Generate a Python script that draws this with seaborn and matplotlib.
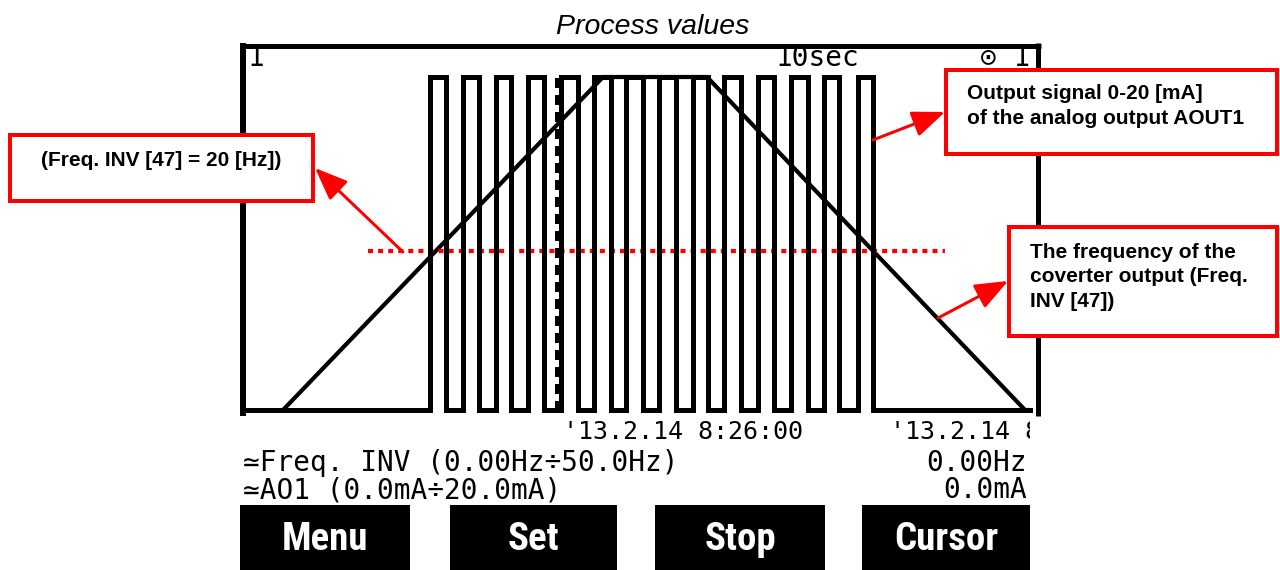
import matplotlib
matplotlib.use("Agg")
import matplotlib.pyplot as plt
import numpy as np
import pandas as pd
import seaborn as sns
from matplotlib.patches import Rectangle, FancyArrowPatch
from matplotlib import font_manager
from matplotlib.font_manager import FontProperties

# ---- trend data -------------------------------------------------------------
window_s = 78.5                      # visible time span of the trend (s)

# AO1 analog output (mA): square wave edge times (s)
ao_rise_s = [18.5, 21.8, 25.1, 28.3, 31.6, 34.9, 38.1, 41.4, 44.8, 47.9, 51.3, 54.6, 57.9, 61.3]
ao_fall_s = [20.1, 23.4, 26.6, 29.9, 33.3, 36.6, 39.8, 43.1, 46.3, 49.6, 52.9, 56.3, 59.4, 62.8]
ao_low_ma = 0.0
ao_high_ma = 20.0

# inverter output frequency (Hz): ramp up, hold, ramp down
freq_t_s = [3.8, 35.8, 46.2, 78.0, 78.5]
freq_hz = [0.0, 42.0, 42.0, 0.0, 0.0]
freq_top_hz = 42.0
freq_ref_hz = 20.0
freq_ref_span_s = [12.3, 70.0]

cursor_t_s = 31.2
time_tick_s = [31.8, 64.5]
time_tick_labels = ["'13.2.14 8:26:00", "'13.2.14 8:26:30"]

button_labels = ["Menu", "Set", "Stop", "Cursor"]

# ---- build plotting tables ----------------------------------------------------
ao_t = [0.0]
ao_v = [ao_low_ma]
for r, f in zip(ao_rise_s, ao_fall_s):
    ao_t += [r, r, f, f]
    ao_v += [ao_low_ma, ao_high_ma, ao_high_ma, ao_low_ma]
ao_t.append(window_s)
ao_v.append(ao_low_ma)
ao_df = pd.DataFrame({"t": ao_t, "mA": ao_v})
freq_df = pd.DataFrame({"t": freq_t_s, "Hz": freq_hz})
ref_df = pd.DataFrame({"t": freq_ref_span_s, "Hz": [freq_ref_hz] * 2})

# ---- style ------------------------------------------------------------------
sns.set_style("white")
plt.rcParams["font.family"] = ["DejaVu Sans Mono", "DejaVu Sans"]
plt.rcParams["text.color"] = "black"


def find_narrow_bold(size):
    """Pick a condensed bold face for the soft-key captions if one is installed."""
    prefs = ["LiberationSansNarrow-Bold", "RobotoCondensed-Bold", "Roboto_Condensed-Bold",
             "OpenSans_Condensed-Bold", "OpenSans-CondensedBold", "DejaVuSansCondensed-Bold"]
    files = [f.fname for f in font_manager.fontManager.ttflist]
    for p in prefs:
        for fn in files:
            if p.lower() in fn.lower().replace(" ", ""):
                return FontProperties(fname=fn, size=size)
    for f in font_manager.fontManager.ttflist:
        nm = f.fname.lower()
        if ("condensed" in nm or "narrow" in nm) and ("bold" in nm) and "oblique" not in nm \
                and "italic" not in nm:
            return FontProperties(fname=f.fname, size=size)
    return FontProperties(family="DejaVu Sans", weight="bold", size=size - 2)


btn_font = find_narrow_bold(28)
label_family = ["Liberation Sans", "DejaVu Sans"]
lcd = dict(family=["DejaVu Sans Mono", "DejaVu Sans"], fontsize=20, color="black")

W, H = 1280, 570
fig = plt.figure(figsize=(W / 100, H / 100), dpi=100)
fig.patch.set_facecolor("white")

# display frame and fixed texts, in pixel units
scr = fig.add_axes([0, 0, 1, 1], zorder=0)
scr.set_xlim(0, W)
scr.set_ylim(H, 0)
scr.axis("off")

px = 72 / 100  # points per pixel
scr.plot([243, 243], [43, 416], color="black", lw=6 * px, solid_capstyle="butt")
scr.plot([240, 1041], [45.5, 45.5], color="black", lw=5 * px, solid_capstyle="butt")
scr.plot([1038, 1038], [43, 416], color="black", lw=5 * px, solid_capstyle="butt")

scr.text(248, 58, "1", ha="left", va="center", **lcd)
scr.text(818, 58, "10sec", ha="center", va="center", **lcd)
scr.text(1030, 58, "\u2299 1", ha="right", va="center", **lcd)

scr.text(243, 463, "\u2243Freq. INV (0.00Hz\u00f750.0Hz)", ha="left", va="center", **lcd)
scr.text(1027, 463, "0.00Hz", ha="right", va="center", **lcd)
scr.text(243, 490, "\u2243AO1 (0.0mA\u00f720.0mA)", ha="left", va="center", **lcd)
scr.text(1027, 490, "0.0mA", ha="right", va="center", **lcd)

btn_boxes = [(240, 410), (450, 617), (655, 825), (862, 1030)]
for (x0, x1), lab in zip(btn_boxes, button_labels):
    scr.add_patch(Rectangle((x0, 505), x1 - x0, 65, facecolor="black", edgecolor="none"))
    scr.text((x0 + x1) / 2, 539, lab, ha="center", va="center", color="white",
             fontproperties=btn_font)

scr.text(653, 27, "Process values", ha="center", va="center", fontsize=20.5,
         style="italic", family=label_family, color="black")

# ---- trend axes -----------------------------------------------------------------
left, right, top, bottom = 245, 1030, 77, 410
ax_hz = fig.add_axes([left / W, 1 - bottom / H, (right - left) / W, (bottom - top) / H], zorder=1)
ax_hz.set_facecolor("none")
ax_ma = ax_hz.twinx()
ax_ma.set_facecolor("none")

sns.lineplot(data=ao_df, x="t", y="mA", sort=False, estimator=None, ax=ax_ma,
             color="black", lw=5 * px, antialiased=False, clip_on=False,
             solid_joinstyle="miter", solid_capstyle="projecting")
sns.lineplot(data=freq_df, x="t", y="Hz", sort=False, estimator=None, ax=ax_hz,
             color="black", lw=4.2 * px, clip_on=False,
             solid_joinstyle="miter", solid_capstyle="butt")
ax_hz.axvline(cursor_t_s, color="black", lw=5 * px, dashes=(2.0, 1.6), antialiased=False)
sns.lineplot(data=ref_df, x="t", y="Hz", sort=False, estimator=None, ax=ax_hz,
             color="red", lw=4.2 * px, zorder=5, clip_on=False)
ax_hz.lines[-1].set_dashes((1.2, 1.2))

for a in (ax_hz, ax_ma):
    a.set_xlim(0, window_s)
    a.set_xlabel("")
    a.set_ylabel("")
    a.set_xticks([])
    a.set_yticks([])
    for s in a.spines.values():
        s.set_visible(False)
ax_ma.set_ylim(ao_low_ma, ao_high_ma)
ax_hz.set_ylim(0, freq_top_hz)

# time stamps under the trend, clipped at the display edge
clip_rect = Rectangle((243, 48), 1030 - 243, 460, transform=scr.transData)
tick_style = dict(lcd, fontsize=18)
for t, lab in zip(time_tick_s, time_tick_labels):
    txt = ax_hz.text(t, -0.066, lab, transform=ax_hz.get_xaxis_transform(),
                     ha="left", va="center", clip_on=True, **tick_style)
    txt.set_clip_path(clip_rect)

# ---- callouts -------------------------------------------------------------------
ov = fig.add_axes([0, 0, 1, 1], zorder=3)
ov.set_xlim(0, W)
ov.set_ylim(H, 0)
ov.axis("off")
ov.patch.set_alpha(0)

box_kw = dict(facecolor="white", edgecolor="red", lw=4 * px)
ov.add_patch(Rectangle((10, 135), 303, 66, **box_kw))
ov.add_patch(Rectangle((946, 70), 331, 84, **box_kw))
ov.add_patch(Rectangle((1009, 227), 268, 109, **box_kw))

txt_kw = dict(fontsize=15, fontweight="bold", family=label_family, color="black")
ov.text(161, 160, "(Freq. INV [47] = 20 [Hz])", ha="center", va="center", **txt_kw)
ov.text(967, 106, "Output signal 0-20 [mA]\nof the analog output AOUT1",
        ha="left", va="center", linespacing=1.35, **txt_kw)
ov.text(1030, 277, "The frequency of the\ncoverter output (Freq.\nINV [47])",
        ha="left", va="center", linespacing=1.35, **txt_kw)

arrow_kw = dict(arrowstyle="-|>,head_length=0.8,head_width=0.32", mutation_scale=25,
                color="red", lw=3 * px, shrinkA=0, shrinkB=0)
ov.add_patch(FancyArrowPatch((403, 252), (315, 168), **arrow_kw))
ov.add_patch(FancyArrowPatch((873, 140), (945, 112), **arrow_kw))
ov.add_patch(FancyArrowPatch((938, 318), (1008, 281), **arrow_kw))

fig.savefig("out.png", dpi=100)
